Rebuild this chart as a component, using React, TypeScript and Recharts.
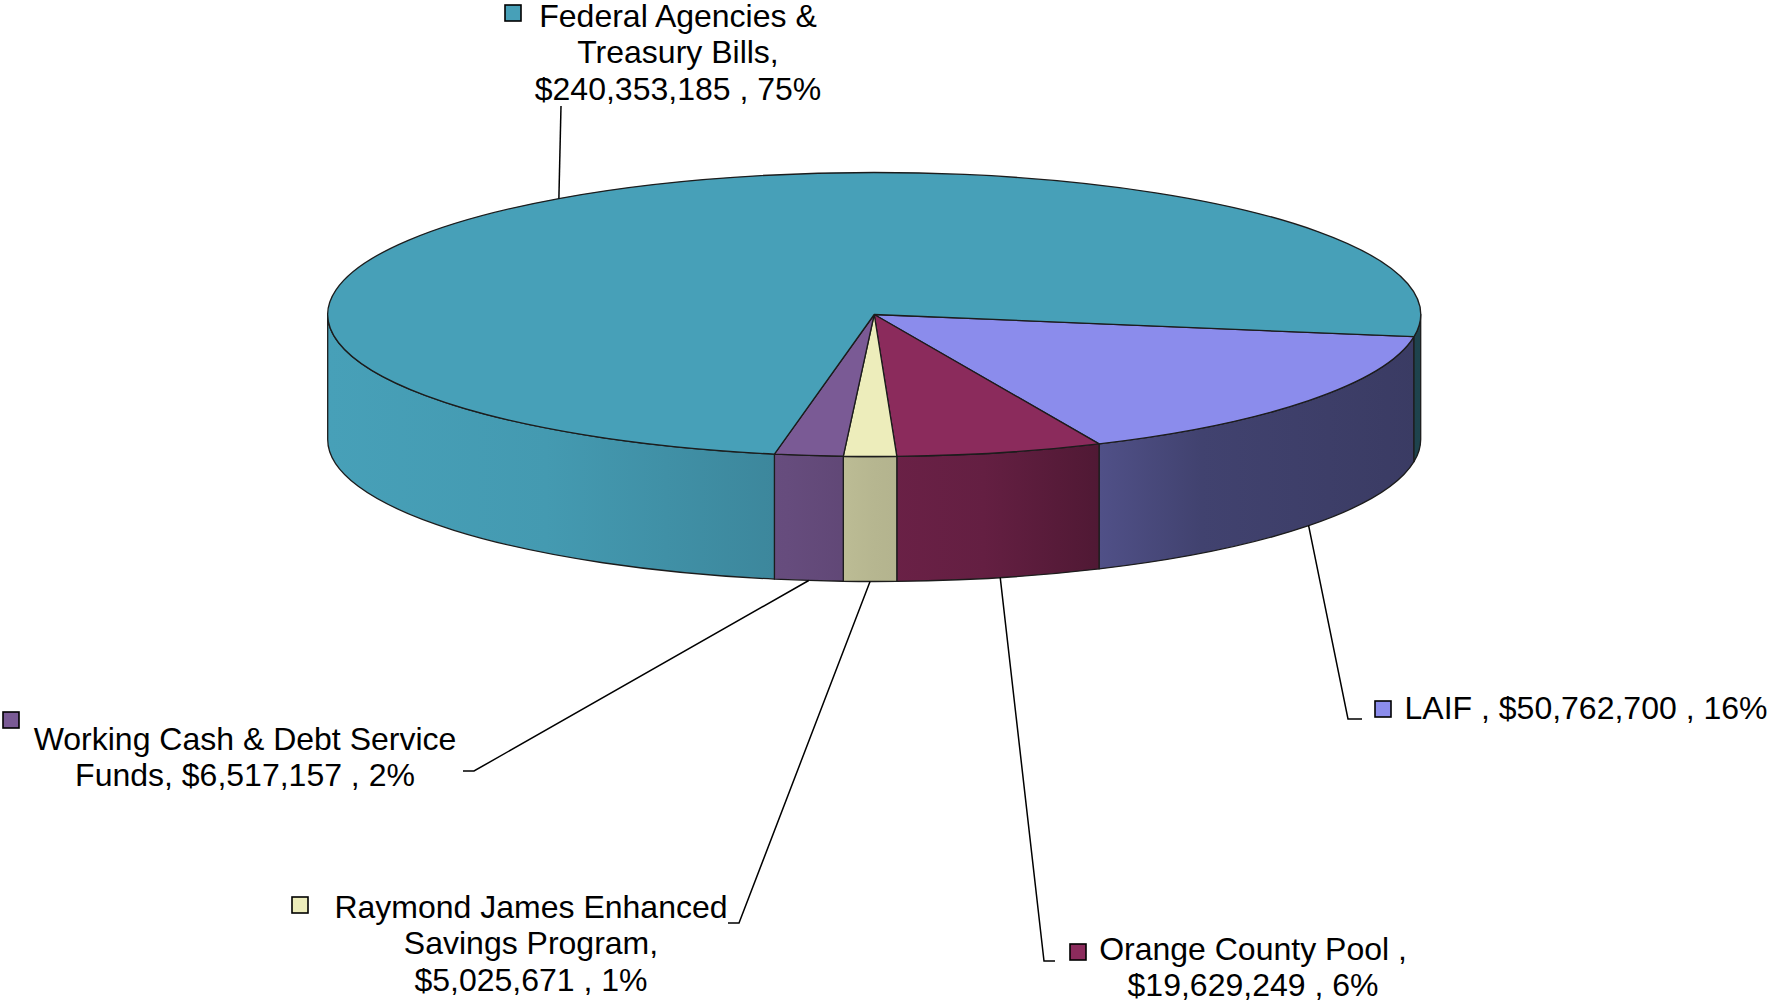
import React from 'react';
import { PieChart, Pie } from 'recharts';

// ---- data ----
const categories = [
  'LAIF ',
  'Orange County Pool ',
  'Raymond James Enhanced Savings Program',
  'Working Cash & Debt Service Funds',
  'Federal Agencies & Treasury Bills',
];
const amounts = [50762700, 19629249, 5025671, 6517157, 240353185];
const percentLabels = ['16%', '6%', '1%', '2%', '75%'];
const colors = ['#8b8cec', '#8b2b5c', '#ededbb', '#7a5a95', '#47a0b8'];
const lineWordCounts = [[5], [4, 3], [3, 2, 3], [5, 4], [3, 2, 3]];

// ---- layout ----
const W = 1769;
const H = 1008;
const CX = 874.2;
const CY = 314.5;
const RX = 546.5;
const TILT = 142 / 546.5;
const DEPTH = 125;
const START = -9;
const FONT = '"Liberation Sans", Arial, sans-serif';
const FONT_SIZE = 32;
const LINE_H = 36.3;
const KEY = 16;

const labelLayout = [
  { key: [1375, 701], textX: 1586, textY: 719, bend: [1348, 719], end: [1362, 719] },
  { key: [1070, 944], textX: 1253, textY: 960, bend: [1044, 961], end: [1055, 961] },
  { key: [292, 897], textX: 531, textY: 918, bend: [739, 923], end: [728, 923] },
  { key: [3, 712], textX: 245, textY: 750, bend: [474, 771], end: [463, 771] },
  { key: [505, 5], textX: 678, textY: 27, bend: null as null | number[], end: [561, 106] },
];

const wallStops: [number, number][] = [
  [0, 1.0],
  [0.2, 0.96],
  [0.42, 0.84],
  [0.5, 0.77],
  [0.6, 0.72],
  [0.7, 0.58],
  [0.8, 0.47],
  [1, 0.42],
];

const data = categories.map((name, i) => ({
  name,
  value: amounts[i],
  fill: colors[i],
  color: colors[i],
  pct: percentLabels[i],
  idx: i,
}));

function shade(hex: string, f: number) {
  const n = parseInt(hex.slice(1), 16);
  const r = Math.round(((n >> 16) & 255) * f);
  const g = Math.round(((n >> 8) & 255) * f);
  const b = Math.round((n & 255) * f);
  return `rgb(${r},${g},${b})`;
}

const rad = (d: number) => (d * Math.PI) / 180;

function Slice3D(props: any) {
  const { cx, cy, outerRadius, startAngle, endAngle } = props;
  const color: string = props.payload?.color ?? props.fill;
  const rx = outerRadius;
  const ry = outerRadius * TILT;
  let a1 = -startAngle;
  let a2 = -endAngle;
  if (a2 < a1) {
    const t = a1;
    a1 = a2;
    a2 = t;
  }
  const pt = (deg: number, dy = 0) => [cx + rx * Math.cos(rad(deg)), cy + ry * Math.sin(rad(deg)) + dy];
  const f = (p: number[]) => `${p[0].toFixed(2)},${p[1].toFixed(2)}`;
  const gid = `wall-${color.replace('#', '')}`;
  const large = a2 - a1 > 180 ? 1 : 0;
  const p1 = pt(a1);
  const p2 = pt(a2);
  const topPath = `M${cx},${cy} L${f(p1)} A${rx},${ry} 0 ${large} 1 ${f(p2)} Z`;
  const walls: string[] = [];
  for (const k of [-360, 0, 360]) {
    const lo = Math.max(a1, k);
    const hi = Math.min(a2, k + 180);
    if (hi - lo > 0.01) {
      const w1 = pt(lo);
      const w2 = pt(hi);
      const w3 = pt(hi, DEPTH);
      const w4 = pt(lo, DEPTH);
      walls.push(
        `M${f(w1)} A${rx},${ry} 0 0 1 ${f(w2)} L${f(w3)} A${rx},${ry} 0 0 0 ${f(w4)} Z`
      );
    }
  }
  return (
    <g>
      <defs>
        <linearGradient id={gid} gradientUnits="userSpaceOnUse" x1={cx - rx} y1={0} x2={cx + rx} y2={0}>
          {wallStops.map(([o, s], i) => (
            <stop key={i} offset={o} stopColor={shade(color, s)} />
          ))}
        </linearGradient>
      </defs>
      {walls.map((d, i) => (
        <path key={i} d={d} fill={`url(#${gid})`} stroke="#1c1c1c" strokeWidth={1.3} strokeLinejoin="round" />
      ))}
      <path d={topPath} fill={color} stroke="#1c1c1c" strokeWidth={1.3} strokeLinejoin="round" />
    </g>
  );
}

function renderLabel(props: any) {
  const { cx, cy, outerRadius, midAngle } = props;
  const i: number = props.payload?.idx ?? props.idx ?? props.index;
  const lay = labelLayout[i];
  const rx = outerRadius;
  const ry = outerRadius * TILT;
  const phi = -midAngle;
  const s = Math.sin(rad(phi));
  const sx = cx + rx * Math.cos(rad(phi));
  const sy = cy + ry * s + (s > 0 ? DEPTH : 0);
  const pts = [[sx, sy]];
  if (lay.bend) pts.push(lay.bend);
  pts.push(lay.end);
  const money = '$' + amounts[i].toLocaleString('en-US');
  const full = `${categories[i]}, ${money} , ${percentLabels[i]}`;
  const words = full.split(' ').filter((w) => w.length > 0);
  const lines: string[] = [];
  let pos = 0;
  for (const c of lineWordCounts[i]) {
    lines.push(words.slice(pos, pos + c).join(' '));
    pos += c;
  }
  return (
    <g key={`lbl-${i}`}>
      <polyline
        points={pts.map((p) => `${p[0]},${p[1]}`).join(' ')}
        fill="none"
        stroke="#000"
        strokeWidth={1.5}
      />
      <rect x={lay.key[0]} y={lay.key[1]} width={KEY} height={KEY} fill={colors[i]} stroke="#000" strokeWidth={1.6} />
      <text
        x={lay.textX}
        y={lay.textY}
        textAnchor="middle"
        fontFamily={FONT}
        fontSize={FONT_SIZE}
        fill="#000"
      >
        {lines.map((ln, j) => (
          <tspan key={j} x={lay.textX} y={lay.textY + j * LINE_H}>
            {ln}
          </tspan>
        ))}
      </text>
    </g>
  );
}

export default function App() {
  return (
    <div style={{ position: 'absolute', left: 0, top: 0, width: W, height: H, background: '#fff' }}>
      <PieChart width={W} height={H} margin={{ top: 0, right: 0, bottom: 0, left: 0 }}>
        <Pie
          data={data}
          dataKey="value"
          nameKey="name"
          cx={CX}
          cy={CY}
          innerRadius={0}
          outerRadius={RX}
          startAngle={START}
          endAngle={START - 360}
          isAnimationActive={false}
          shape={Slice3D}
          activeShape={Slice3D}
          inactiveShape={Slice3D}
          label={renderLabel}
          labelLine={false}
          stroke="none"
        />
      </PieChart>
    </div>
  );
}
